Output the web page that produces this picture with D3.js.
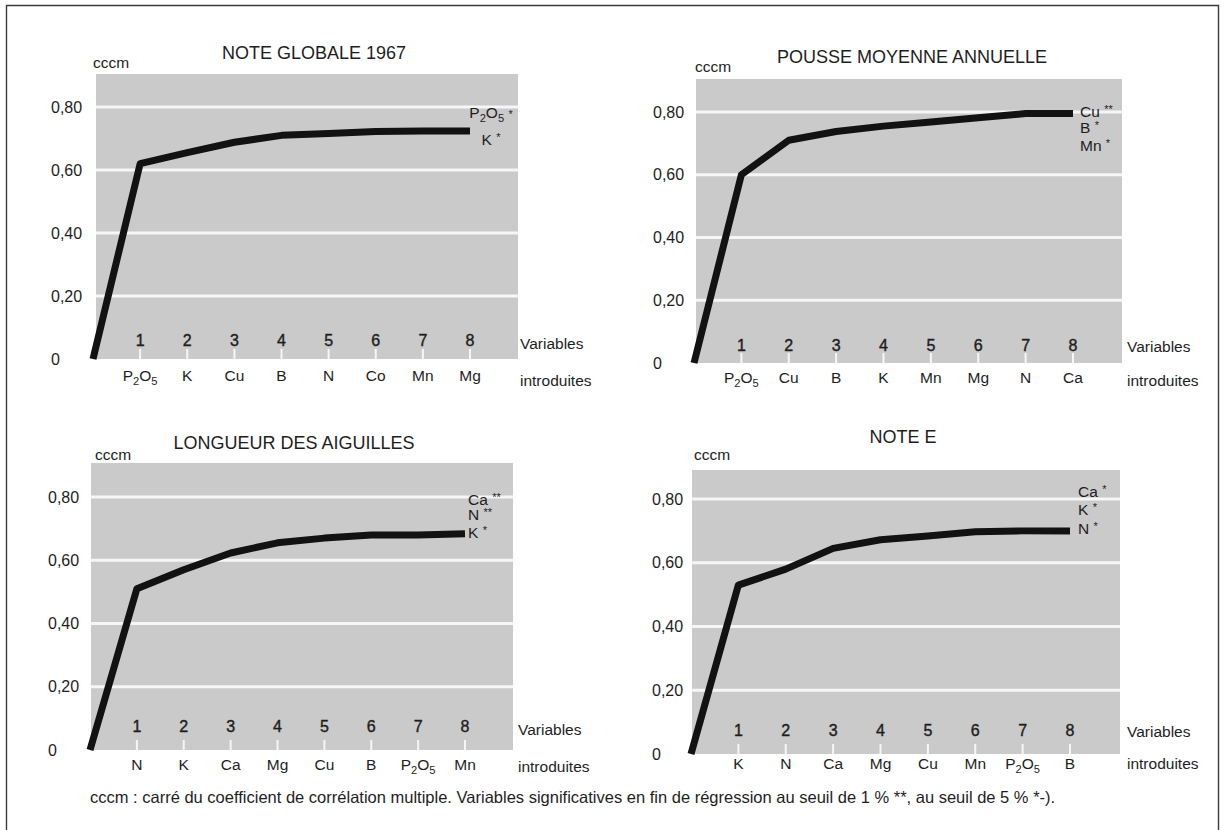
<!DOCTYPE html>
<html>
<head>
<meta charset="utf-8">
<script src="https://cdn.jsdelivr.net/npm/d3@7"></script>
<style>
  html, body { margin: 0; padding: 0; background: #fff; }
  svg { display: block; font-family: "Liberation Sans", Arial, Helvetica, sans-serif; }
</style>
</head>
<body>
<svg id="chart" width="1225" height="830"></svg>
<script>
// ---------------- DATA ----------------
const titles = ["NOTE GLOBALE 1967", "POUSSE MOYENNE ANNUELLE", "LONGUEUR DES AIGUILLES", "NOTE E"];
const steps = [0, 1, 2, 3, 4, 5, 6, 7, 8];
const yTicks = [0, 0.2, 0.4, 0.6, 0.8];

const catsNoteGlobale = ["P2O5", "K", "Cu", "B", "N", "Co", "Mn", "Mg"];
const catsPousse      = ["P2O5", "Cu", "B", "K", "Mn", "Mg", "N", "Ca"];
const catsLongueur    = ["N", "K", "Ca", "Mg", "Cu", "B", "P2O5", "Mn"];
const catsNoteE       = ["K", "N", "Ca", "Mg", "Cu", "Mn", "P2O5", "B"];

const valsNoteGlobale = [0, 0.62, 0.655, 0.688, 0.71, 0.716, 0.722, 0.724, 0.724];
const valsPousse      = [0, 0.60, 0.71, 0.738, 0.755, 0.768, 0.782, 0.795, 0.795];
const valsLongueur    = [0, 0.51, 0.57, 0.623, 0.655, 0.67, 0.68, 0.68, 0.684];
const valsNoteE       = [0, 0.53, 0.58, 0.645, 0.672, 0.684, 0.697, 0.70, 0.70];

const sigNoteGlobale = [["P2O5", "*"], ["K", "*"]];
const sigPousse      = [["Cu", "**"], ["B", "*"], ["Mn", "*"]];
const sigLongueur    = [["Ca", "**"], ["N", "**"], ["K", "*"]];
const sigNoteE       = [["Ca", "*"], ["K", "*"], ["N", "*"]];

const yAxisUnit = "cccm";
const xAxisLabel1 = "Variables";
const xAxisLabel2 = "introduites";
const caption = "cccm : carré du coefficient de corrélation multiple. Variables significatives en fin de régression au seuil de 1 % **, au seuil de 5 % *-).";

// ---------------- LAYOUT (positions only) ----------------
const layout = [
  { x0: 93,  x8: 470,  y0: 359, y80: 107, gx1: 96,  gy1: 74,  gx2: 518,  ylx: 51,  tx: 314, ty: 53,  cx: 93,  cy: 63,
    numY: 340, catY: 376, varX: 520,  varY: 344, intY: 381, annX: 491,  annAnchor: "middle", annY: [113, 140] },
  { x0: 694, x8: 1073, y0: 363, y80: 112, gx1: 696, gy1: 79,  gx2: 1122, ylx: 653, tx: 912, ty: 57,  cx: 695, cy: 67,
    numY: 345, catY: 378, varX: 1127, varY: 347, intY: 381, annX: 1080, annAnchor: "start",  annY: [112, 128, 146] },
  { x0: 90,  x8: 465,  y0: 750, y80: 497, gx1: 91,  gy1: 463, gx2: 513,  ylx: 48,  tx: 294, ty: 443, cx: 95,  cy: 455,
    numY: 726, catY: 765, varX: 518,  varY: 730, intY: 767, annX: 468,  annAnchor: "start",  annY: [500, 515, 533] },
  { x0: 691, x8: 1070, y0: 754, y80: 499, gx1: 692, gy1: 470, gx2: 1120, ylx: 652, tx: 903, ty: 437, cx: 694, cy: 455,
    numY: 730, catY: 764, varX: 1127, varY: 732, intY: 764, annX: 1078, annAnchor: "start",  annY: [492, 510, 529] }
];

const panels = [
  { title: titles[0], cats: catsNoteGlobale, vals: valsNoteGlobale, sig: sigNoteGlobale },
  { title: titles[1], cats: catsPousse,      vals: valsPousse,      sig: sigPousse },
  { title: titles[2], cats: catsLongueur,    vals: valsLongueur,    sig: sigLongueur },
  { title: titles[3], cats: catsNoteE,       vals: valsNoteE,       sig: sigNoteE }
];

const TEXT = "#1e1e1e";
const GRAY = "#cacaca";
const FS = 15.5;

const svg = d3.select("#chart");

// frame
svg.append("path")
  .attr("d", "M6.5,830 V5.5 H1218.5 V830")
  .attr("fill", "none").attr("stroke", "#3a3a3a").attr("stroke-width", 1.4);

function chem(sel, label, fs) {
  const parts = label.split(/(\d+)/).filter(s => s.length);
  let sub = false;
  parts.forEach(p => {
    if (/^\d+$/.test(p)) {
      sel.append("tspan").attr("dy", 4).attr("font-size", fs * 0.72).text(p);
      sub = true;
    } else {
      const t = sel.append("tspan").text(p);
      if (sub) { t.attr("dy", -4); sub = false; }
    }
  });
  if (sub) sel.append("tspan").attr("dy", -4).text("");
}

const fmt = v => v === 0 ? "0" : d3.format(".2f")(v).replace(".", ",");

panels.forEach((p, i) => {
  const L = layout[i];
  const g = svg.append("g");
  const x = d3.scaleLinear().domain([0, 8]).range([L.x0, L.x8]);
  const y = d3.scaleLinear().domain([0, 0.8]).range([L.y0, L.y80]);

  // gray plotting area
  g.append("rect")
    .attr("x", L.gx1).attr("y", L.gy1)
    .attr("width", L.gx2 - L.gx1).attr("height", L.y0 - L.gy1)
    .attr("fill", GRAY);

  // white grid lines
  g.selectAll("line.grid").data(yTicks.filter(v => v > 0)).join("line")
    .attr("class", "grid")
    .attr("x1", L.gx1).attr("x2", L.gx2)
    .attr("y1", d => y(d)).attr("y2", d => y(d))
    .attr("stroke", "#f6f6f6").attr("stroke-width", 3);

  // white tick marks
  g.selectAll("line.tk").data(steps.slice(1)).join("line")
    .attr("class", "tk")
    .attr("x1", d => x(d)).attr("x2", d => x(d))
    .attr("y1", L.y0 - 10).attr("y2", L.y0)
    .attr("stroke", "#f6f6f6").attr("stroke-width", 2);

  // y axis labels
  const ax = g.append("g").attr("transform", `translate(${L.ylx},0)`)
    .call(d3.axisLeft(y).tickValues(yTicks).tickFormat(fmt).tickSize(0));
  ax.select(".domain").remove();
  ax.selectAll("text")
    .attr("x", 0).attr("text-anchor", "start")
    .attr("fill", TEXT).attr("font-size", 16)
    .attr("font-family", "Liberation Sans, Arial, sans-serif");

  // tick numbers
  g.selectAll("text.num").data(steps.slice(1)).join("text")
    .attr("class", "num")
    .attr("x", d => x(d)).attr("y", L.numY).attr("dy", "0.35em")
    .attr("text-anchor", "middle").attr("font-size", 16).attr("fill", TEXT)
    .attr("stroke", TEXT).attr("stroke-width", 0.4)
    .text(d => d);

  // category labels
  g.selectAll("text.cat").data(p.cats).join("text")
    .attr("class", "cat")
    .attr("x", (d, k) => x(k + 1)).attr("y", L.catY).attr("dy", "0.35em")
    .attr("text-anchor", "middle").attr("font-size", FS).attr("fill", TEXT)
    .each(function (d) { chem(d3.select(this), d, FS); });

  // axis words
  g.append("text").attr("x", L.varX).attr("y", L.varY).attr("dy", "0.35em")
    .attr("font-size", FS).attr("fill", TEXT).text(xAxisLabel1);
  g.append("text").attr("x", L.varX).attr("y", L.intY).attr("dy", "0.35em")
    .attr("font-size", FS).attr("fill", TEXT).text(xAxisLabel2);

  // unit
  g.append("text").attr("x", L.cx).attr("y", L.cy).attr("dy", "0.35em")
    .attr("font-size", 15.5).attr("fill", TEXT).text(yAxisUnit);

  // title
  g.append("text").attr("x", L.tx).attr("y", L.ty).attr("dy", "0.35em")
    .attr("text-anchor", "middle").attr("font-size", 18).attr("fill", TEXT)
    .text(p.title);

  // curve
  const line = d3.line().x((d, k) => x(steps[k])).y(d => y(d));
  g.append("path").datum(p.vals)
    .attr("d", line)
    .attr("fill", "none").attr("stroke", "#121212")
    .attr("stroke-width", 7).attr("stroke-linejoin", "round");

  // significant variables
  g.selectAll("text.sig").data(p.sig).join("text")
    .attr("class", "sig")
    .attr("x", L.annX).attr("y", (d, k) => L.annY[k]).attr("dy", "0.35em")
    .attr("text-anchor", L.annAnchor).attr("font-size", FS).attr("fill", TEXT)
    .each(function (d) {
      const t = d3.select(this);
      chem(t, d[0], FS);
      t.append("tspan").text(" ");
      t.append("tspan").attr("dy", -4).attr("font-size", 11).text(d[1]);
    });
});

// caption
svg.append("text")
  .attr("x", 90).attr("y", 797).attr("dy", "0.35em")
  .attr("font-size", 16.5).attr("fill", TEXT)
  .text(caption);
</script>
</body>
</html>
